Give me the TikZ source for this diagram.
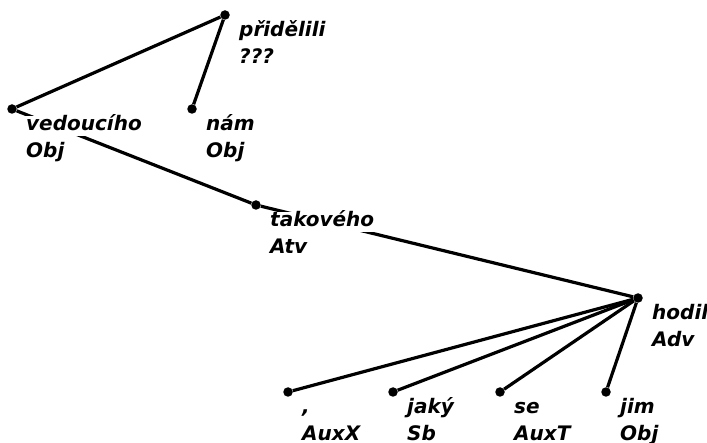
\documentclass[tikz,border=0pt]{standalone}
\usepackage{fontspec}
\usetikzlibrary{calc,backgrounds}
\newfontfamily\treefont{DejaVu Sans}
\newcommand{\treesize}{\fontsize{20}{27}\selectfont}
\tikzset{
 dot/.style={circle,fill=black,inner sep=0pt,minimum size=9.5pt},
 word/.style={anchor=base west,fill=white,inner xsep=1pt,inner ysep=0pt,
   text height=15pt,text depth=5pt,font=\treefont\treesize\bfseries\itshape},
 edge/.style={draw=black,line width=3.2pt},
}
% a tree node: name, x, y, word form, function
\newcommand{\treenode}[5]{%
  \node[dot] (#1) at (#2,#3) {};
  \node[word] (#1-w) at ($(#1)+(13,22)$) {#4};
  \node[word] (#1-f) at ($(#1-w.base west)+(0,27)$) {#5};
}

\begin{document}
\begin{tikzpicture}[x=1pt,y=-1pt]
\useasboundingbox (0,0) rectangle (707,443);

\treenode{pridelili}{225}{15}{přidělili}{???}
\treenode{vedouciho}{12}{109}{vedoucího}{Obj}
\treenode{nam}{192}{109}{nám}{Obj}
\treenode{takoveho}{256}{205}{takového}{Atv}
\treenode{hodil}{638}{298}{hodil}{Adv}
\treenode{comma}{288}{392}{,}{AuxX}
\treenode{jaky}{393}{392}{jaký}{Sb}
\treenode{se}{500}{392}{se}{AuxT}
\treenode{jim}{606}{392}{jim}{Obj}

\begin{scope}[on background layer]
\draw[edge] (pridelili) -- (vedouciho);
\draw[edge] (pridelili) -- (nam);
\draw[edge] (vedouciho) -- (takoveho);
\draw[edge] (takoveho) -- (hodil);
\foreach \child in {comma,jaky,se,jim}
  \draw[edge] (hodil) -- (\child);
\end{scope}

\end{tikzpicture}
\end{document}
